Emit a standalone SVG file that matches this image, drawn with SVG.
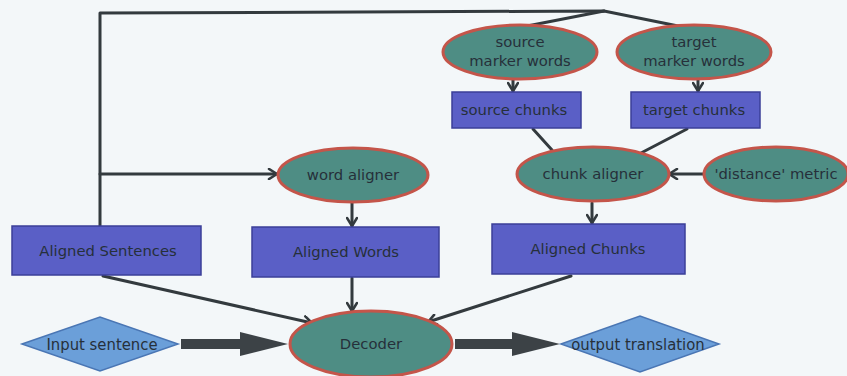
<svg xmlns="http://www.w3.org/2000/svg" width="847" height="376" viewBox="0 0 847 376">
  <defs>
    <marker id="chev" viewBox="0 0 12 12" refX="10" refY="6" markerWidth="12" markerHeight="12" markerUnits="userSpaceOnUse" orient="auto">
      <path d="M2,1 L10,6 L2,11" fill="none" stroke="#333a3e" stroke-width="2.6" stroke-linecap="round" stroke-linejoin="round"/>
    </marker>
  </defs>
  <style>
    .bg { fill: #f3f7f9; }
    .box { fill: #5a5fc6; stroke: #3b3f98; stroke-width: 1.5; }
    .oval { fill: #4e8d84; stroke: #c4554a; stroke-width: 3; }
    .dia { fill: #6b9fd9; stroke: #4a76b4; stroke-width: 1.5; }
    .lbl { font-family: "DejaVu Sans", Verdana, sans-serif; font-size: 14.8px; fill: #26303a; text-anchor: middle; }
    .dlbl { font-family: "DejaVu Sans Condensed", "DejaVu Sans", sans-serif; font-size: 16.5px; fill: #26303a; text-anchor: middle; }
    .wire { fill: none; stroke: #333a3e; stroke-width: 3; stroke-linecap: round; stroke-linejoin: round; }
    .arr { marker-end: url(#chev); }
    .fat { fill: #3c4246; }
  </style>

  <rect class="bg" x="0" y="0" width="847" height="376"/>

  <!-- connectors -->
  <g id="connectors">
    <polyline class="wire" points="100,226 100,13 604,11 688,28"/>
    <line class="wire" x1="604" y1="11" x2="522" y2="27"/>
    <line class="wire arr" x1="100" y1="174" x2="277" y2="174"/>
    <line class="wire arr" x1="513" y1="80" x2="513" y2="91"/>
    <line class="wire arr" x1="698" y1="80" x2="698" y2="91"/>
    <line class="wire" x1="533" y1="129" x2="552" y2="150"/>
    <line class="wire" x1="687" y1="129" x2="641" y2="153"/>
    <line class="wire arr" x1="704" y1="174" x2="669" y2="174"/>
    <line class="wire arr" x1="352" y1="203" x2="352" y2="226"/>
    <line class="wire arr" x1="592" y1="203" x2="592" y2="223"/>
    <line class="wire arr" x1="103" y1="276" x2="312" y2="323"/>
    <line class="wire arr" x1="352" y1="278" x2="352" y2="311"/>
    <line class="wire arr" x1="571" y1="276" x2="428" y2="322"/>
    <!-- wide block arrows along the main flow -->
    <polygon class="fat" points="181,339 240,339 240,332 288,344 240,356 240,349 181,349"/>
    <polygon class="fat" points="455,339 512,339 512,332 560,344 512,356 512,349 455,349"/>
  </g>

  <g id="source-marker-words">
    <ellipse class="oval" cx="520" cy="52" rx="77" ry="27"/>
    <text class="lbl" x="520" y="47">source</text>
    <text class="lbl" x="520" y="66">marker words</text>
  </g>
  <g id="target-marker-words">
    <ellipse class="oval" cx="694" cy="52" rx="77" ry="27"/>
    <text class="lbl" x="694" y="47">target</text>
    <text class="lbl" x="694" y="66">marker words</text>
  </g>
  <g id="source-chunks">
    <rect class="box" x="452" y="92" width="129" height="36"/>
    <text class="lbl" x="514" y="115">source chunks</text>
  </g>
  <g id="target-chunks">
    <rect class="box" x="631" y="92" width="129" height="36"/>
    <text class="lbl" x="694" y="115">target chunks</text>
  </g>
  <g id="word-aligner">
    <ellipse class="oval" cx="353" cy="175" rx="75" ry="27"/>
    <text class="lbl" x="353" y="180">word aligner</text>
  </g>
  <g id="chunk-aligner">
    <ellipse class="oval" cx="593" cy="174" rx="76" ry="27"/>
    <text class="lbl" x="593" y="179">chunk aligner</text>
  </g>
  <g id="distance-metric">
    <ellipse class="oval" cx="776" cy="174" rx="72" ry="27"/>
    <text class="lbl" x="776" y="179">'distance' metric</text>
  </g>
  <g id="aligned-sentences">
    <rect class="box" x="12" y="226" width="189" height="49"/>
    <text class="lbl" x="108" y="256">Aligned Sentences</text>
  </g>
  <g id="aligned-words">
    <rect class="box" x="252" y="227" width="187" height="50"/>
    <text class="lbl" x="346" y="257">Aligned Words</text>
  </g>
  <g id="aligned-chunks">
    <rect class="box" x="492" y="224" width="193" height="50"/>
    <text class="lbl" x="588" y="254">Aligned Chunks</text>
  </g>
  <g id="input-sentence">
    <polygon class="dia" points="22,344 100,317 178,344 100,371"/>
    <text class="dlbl" x="102" y="350">Input sentence</text>
  </g>
  <g id="decoder">
    <ellipse class="oval" cx="371" cy="344" rx="81" ry="33"/>
    <text class="lbl" x="371" y="349">Decoder</text>
  </g>
  <g id="output-translation">
    <polygon class="dia" points="561,344 640,316 719,344 640,372"/>
    <text class="dlbl" x="638" y="350">output translation</text>
  </g>
</svg>
